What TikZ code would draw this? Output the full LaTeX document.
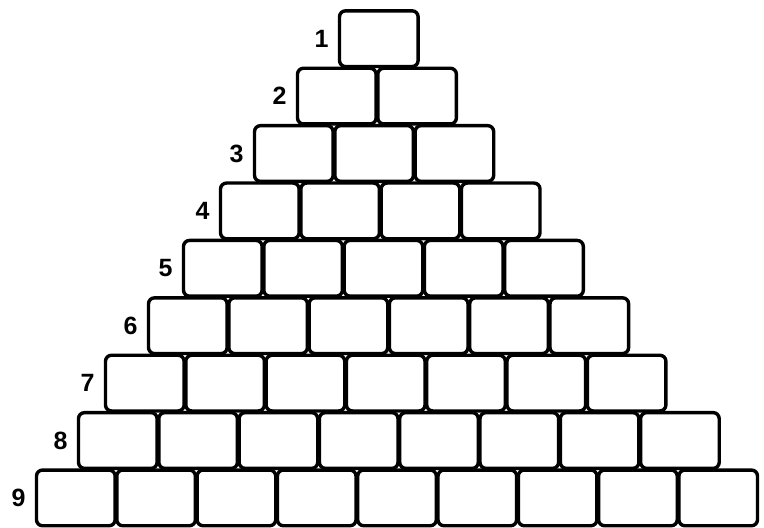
\documentclass[tikz,border=0pt]{standalone}
\usepackage{fontspec}
\setmainfont{Liberation Sans}
\usetikzlibrary{positioning}
\tikzset{
  brick/.style={draw,line width=1.7pt,rounded corners=3pt,minimum width=39.3pt,minimum height=27.85pt,inner sep=0pt},
  rowlabel/.style={inner sep=0pt,font=\fontsize{12.5}{14}\selectfont\bfseries},
}
\begin{document}
\begin{tikzpicture}[x=0.5pt,y=-0.5pt]
  \useasboundingbox (0,0) rectangle (764,528);
  \foreach \r/\lx in {1/338,2/296,3/253,4/219,5/182,6/147,7/104,8/77,9/35} {
    \pgfmathsetmacro{\cy}{10+(\r-1)*57.4+28.7}
    \node[rowlabel,anchor=east] (l\r) at (\lx-9,\cy) {\r};
    \foreach \c in {1,...,\r}
      \node[brick] (b\r-\c) at ({\lx+40.8+(\c-1)*80.3},\cy) {};
  }
\end{tikzpicture}
\end{document}
